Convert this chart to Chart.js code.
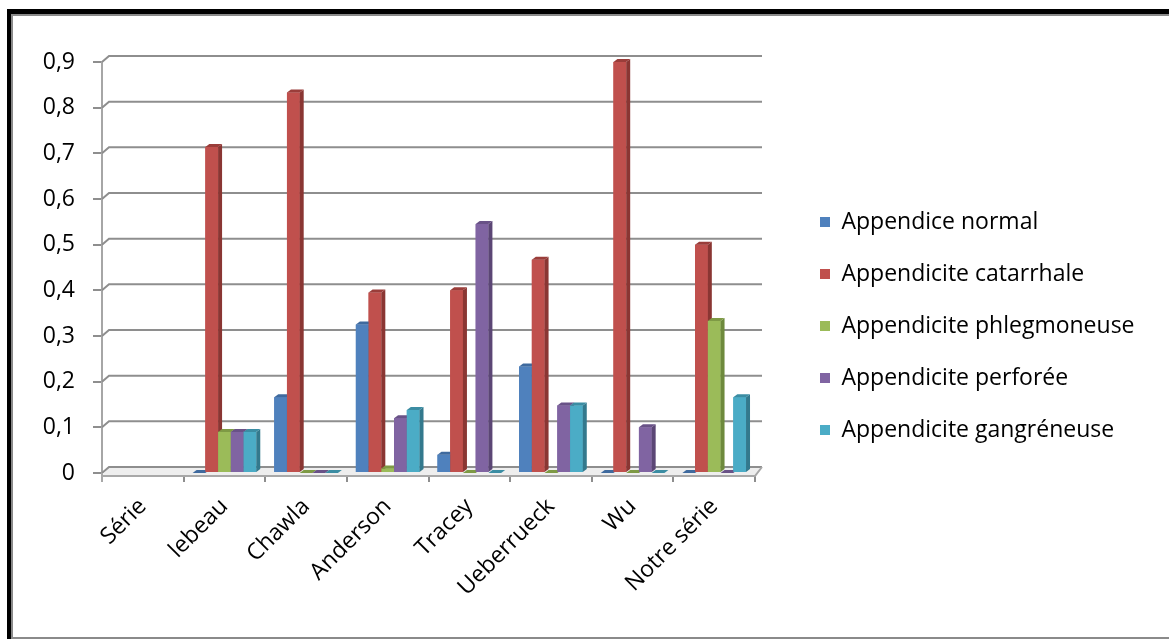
<!DOCTYPE html>
<html><head><meta charset="utf-8">
<script src="https://cdn.jsdelivr.net/npm/chart.js@4.4.0/dist/chart.umd.min.js"></script>
<style>
html,body{margin:0;padding:0;background:#fff;width:1169px;height:639px;overflow:hidden;}
#wrap{position:relative;width:1169px;height:639px;}
canvas{position:absolute;left:0;top:0;}
#frame{position:absolute;left:7px;top:9px;width:1200px;height:640px;border-left:4px solid #000;border-top:5px solid #000;box-sizing:border-box;pointer-events:none;}
#inner{position:absolute;left:11px;top:14px;width:1200px;height:625px;border-left:2px solid #8a8a8a;border-top:2px solid #8a8a8a;border-bottom:2px solid #8a8a8a;box-sizing:border-box;pointer-events:none;}
</style></head>
<body>
<div id="wrap">
<canvas id="c" width="1169" height="639"></canvas>
<div id="frame"></div><div id="inner"></div>
</div>
<script>
const categories = ['Série','lebeau','Chawla','Anderson','Tracey','Ueberrueck','Wu','Notre série'];
const seriesNames = ['Appendice normal','Appendicite catarrhale','Appendicite phlegmoneuse','Appendicite perforée','Appendicite gangréneuse'];
const normal       = [null, 0,     0.166, 0.325, 0.04,  0.233, 0,   0];
const catarrhale   = [null, 0.714, 0.833, 0.395, 0.4,   0.467, 0.9, 0.5];
const phlegmoneuse = [null, 0.09,  0,     0.01,  0,     0,     0,   0.333];
const perforee     = [null, 0.09,  0,     0.12,  0.545, 0.148, 0.1, 0];
const gangreneuse  = [null, 0.09,  0,     0.138, 0,     0.148, 0,   0.166];
const yTickLabels = ['0','0,1','0,2','0,3','0,4','0,5','0,6','0,7','0,8','0,9'];

const COLORS = ['#4F81BD','#C0504D','#9BBB59','#8064A2','#4BACC6'];
const SIDE   = ['#375B88','#8A3633','#6E8A3D','#5B4675','#33798D'];
const TOPC   = ['#3F6A9E','#9A3D3A','#7E9A45','#695287','#3B8DA3'];
const FONT = 'Open Sans';
const FS = 23;
const DX = 4, DY = 3;   // bar depth
const WX = 7, WY = 6;   // wall depth
const LEGEND_W = 414, LEGEND_SHIFT = 36, LEGEND_TOP = 181.5;

const threeD = {
  id: 'threeD',
  beforeUpdate(chart) {
    const lg = chart.legend;
    if (lg && !lg._patched) {
      const f = lg.fit;
      lg.fit = function () { f.call(this); this.width = LEGEND_W; };
      const d = lg.draw;
      lg.draw = function () {
        const l = this.left, r = this.right, t = this.top, b = this.bottom;
        this.left += LEGEND_SHIFT; this.right += LEGEND_SHIFT;
        this.top = LEGEND_TOP; this.bottom = LEGEND_TOP + 400;
        d.call(this);
        this.left = l; this.right = r; this.top = t; this.bottom = b;
      };
      lg._patched = true;
    }
  },
  beforeDatasetsDraw(chart) {
    const {ctx, chartArea: a, scales: {y}} = chart;
    ctx.save();
    const fb = a.bottom + 3, bb = a.bottom - WY;
    ctx.fillStyle = '#eeeeee';
    ctx.beginPath();
    ctx.moveTo(a.left, fb); ctx.lineTo(a.right, fb);
    ctx.lineTo(a.right + WX, bb); ctx.lineTo(a.left + WX, bb);
    ctx.closePath(); ctx.fill();
    ctx.strokeStyle = '#8e8e8e'; ctx.lineWidth = 2;
    y.ticks.forEach(t => {
      const py = y.getPixelForValue(t.value);
      ctx.beginPath();
      ctx.moveTo(a.left, py); ctx.lineTo(a.left + WX, py - WY); ctx.lineTo(a.right + WX, py - WY);
      ctx.stroke();
    });
    ctx.strokeStyle = '#a8a8a8';
    ctx.beginPath();
    ctx.moveTo(a.left, fb); ctx.lineTo(a.right, fb); ctx.lineTo(a.right + WX, bb);
    ctx.stroke();
    ctx.beginPath();
    ctx.moveTo(a.left, a.bottom); ctx.lineTo(a.left, a.bottom + 9);
    ctx.stroke();
    ctx.restore();
  },
  afterDatasetsDraw(chart) {
    const ctx = chart.ctx;
    const n = chart.data.labels.length;
    const metas = chart.data.datasets.map((d, i) => chart.getDatasetMeta(i));
    ctx.save();
    for (let c = 0; c < n; c++) {
      metas.forEach((m, k) => {
        const el = m.data[c];
        if (!el || chart.data.datasets[k].data[c] == null) return;
        const {x, y, base, width} = el.getProps(['x', 'y', 'base', 'width'], true);
        const l = x - width / 2, r = x + width / 2;
        ctx.fillStyle = COLORS[k];
        ctx.fillRect(l, y, width, base - y);
        ctx.fillStyle = SIDE[k];
        ctx.beginPath();
        ctx.moveTo(r, y); ctx.lineTo(r + DX, y - DY); ctx.lineTo(r + DX, base - DY); ctx.lineTo(r, base);
        ctx.closePath(); ctx.fill();
        ctx.fillStyle = TOPC[k];
        ctx.beginPath();
        ctx.moveTo(l, y); ctx.lineTo(l + DX, y - DY); ctx.lineTo(r + DX, y - DY); ctx.lineTo(r, y);
        ctx.closePath(); ctx.fill();
      });
    }
    ctx.restore();
  }
};

const seriesData = [normal, catarrhale, phlegmoneuse, perforee, gangreneuse];

new Chart(document.getElementById('c'), {
  type: 'bar',
  data: {
    labels: categories,
    datasets: seriesNames.map((name, k) => ({
      label: name,
      data: seriesData[k],
      backgroundColor: COLORS[k],
      borderWidth: 0,
      categoryPercentage: 0.78,
      barPercentage: 1.0
    }))
  },
  options: {
    responsive: false,
    animation: false,
    devicePixelRatio: 1,
    layout: {padding: {left: 14, top: 62, right: 0, bottom: 0}},
    plugins: {
      legend: {
        position: 'right',
        align: 'start',
        labels: {
          boxWidth: 10, boxHeight: 10, padding: 29, color: '#000',
          font: {family: FONT, size: FS}
        }
      },
      tooltip: {enabled: false}
    },
    scales: {
      x: {
        afterFit: s => { s.height = 166; },
        grid: {drawOnChartArea: false, drawTicks: true, tickLength: 9, color: '#8e8e8e', lineWidth: 2},
        border: {display: false},
        ticks: {minRotation: 45, maxRotation: 45, padding: 11, color: '#000', font: {family: FONT, size: FS}}
      },
      y: {
        min: 0, max: 0.9,
        afterFit: s => { s.width = 88; },
        grid: {drawOnChartArea: false, drawTicks: true, tickLength: 9, color: '#8e8e8e', lineWidth: 2},
        border: {display: true, color: '#a6a6a6', width: 2},
        ticks: {stepSize: 0.1, padding: 18, color: '#000', font: {family: FONT, size: FS},
          callback: (v, i) => yTickLabels[i]}
      }
    }
  },
  plugins: [threeD]
});
</script>
</body></html>
